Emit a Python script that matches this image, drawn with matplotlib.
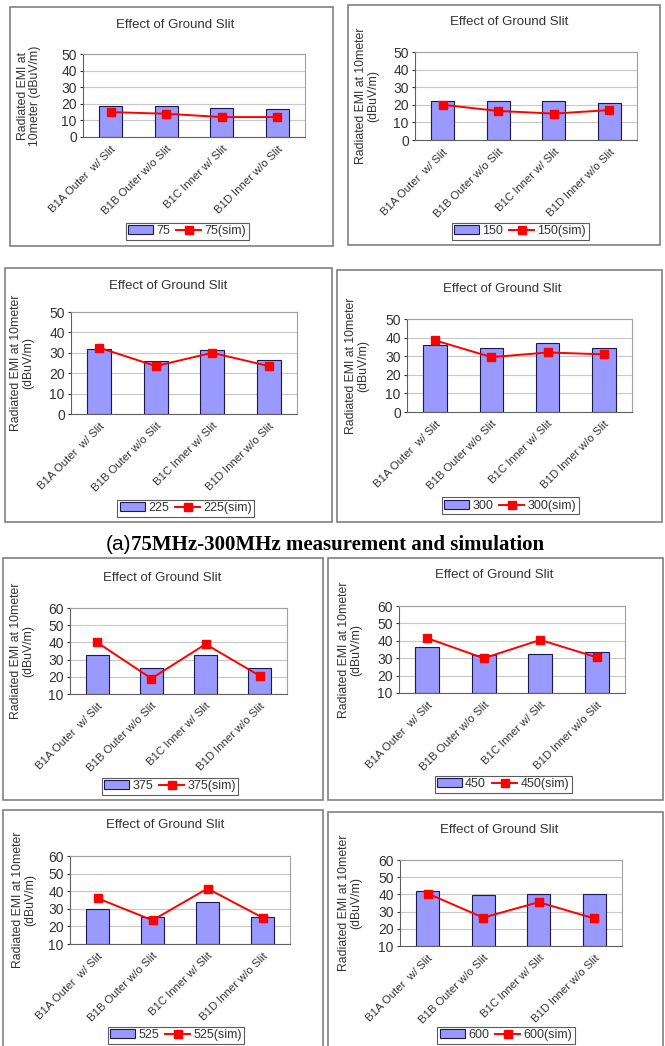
#!/usr/bin/env python3
"""Effect of ground slit: measured (bars) vs simulated (line), 8 frequency panels."""
import matplotlib
matplotlib.use("Agg")
import matplotlib.pyplot as plt
from matplotlib.patches import Rectangle
from matplotlib.lines import Line2D

W, H = 665, 1046

CATEGORIES = ["B1A Outer  w/ Slit", "B1B Outer w/o Slit",
              "B1C Inner w/ Slit", "B1D Inner w/o Slit"]
FREQS = ["75", "150", "225", "300", "375", "450", "525", "600"]

MEAS_75 = [18.5, 18.5, 17.5, 17.0]
SIM_75 = [15.0, 14.0, 12.0, 12.0]
MEAS_150 = [22.0, 22.0, 22.0, 21.0]
SIM_150 = [20.0, 16.5, 15.0, 17.0]
MEAS_225 = [32.0, 26.0, 31.5, 26.5]
SIM_225 = [32.5, 23.5, 30.0, 23.5]
MEAS_300 = [36.0, 34.5, 37.0, 34.5]
SIM_300 = [38.5, 29.5, 32.0, 31.0]
MEAS_375 = [32.5, 25.0, 32.5, 25.0]
SIM_375 = [40.0, 19.0, 39.0, 20.5]
MEAS_450 = [36.5, 32.0, 32.5, 33.5]
SIM_450 = [41.5, 30.0, 40.5, 30.5]
MEAS_525 = [30.0, 25.5, 34.0, 25.5]
SIM_525 = [36.0, 23.5, 41.5, 25.0]
MEAS_600 = [42.0, 39.5, 40.5, 40.5]
SIM_600 = [40.5, 26.5, 35.5, 26.0]

MEAS = [MEAS_75, MEAS_150, MEAS_225, MEAS_300, MEAS_375, MEAS_450, MEAS_525, MEAS_600]
SIM = [SIM_75, SIM_150, SIM_225, SIM_300, SIM_375, SIM_450, SIM_525, SIM_600]
YLIMS = [(0, 50)] * 4 + [(10, 60)] * 4

YLABEL_A = "Radiated EMI at\n10meter (dBuV/m)"
YLABEL_B = "Radiated EMI at 10meter\n(dBuV/m)"
CAPTION_A = "(a)"
CAPTION_B = "75MHz-300MHz measurement and simulation"

# layout in reference pixels: frame box, plot box, title xy, legend centre xy
LAYOUT = [
    dict(frame=(10, 7, 333, 246), plot=(83, 54, 305, 137), title=(175, 25), leg=(187, 231)),
    dict(frame=(348, 5, 660, 245), plot=(415, 52, 637, 140), title=(509, 22), leg=(520, 231)),
    dict(frame=(5, 268, 332, 522), plot=(71, 312, 297, 414), title=(168, 286), leg=(186, 508)),
    dict(frame=(337, 270, 662, 522), plot=(407, 319, 632, 412), title=(502, 289), leg=(510, 506)),
    dict(frame=(3, 558, 323, 800), plot=(70, 608, 287, 694), title=(162, 578), leg=(170, 786)),
    dict(frame=(328, 558, 663, 800), plot=(399, 606, 625, 693), title=(494, 575), leg=(503, 784)),
    dict(frame=(3, 810, 323, 1050), plot=(70, 856, 290, 944), title=(165, 825), leg=(176, 1035)),
    dict(frame=(328, 812, 663, 1050), plot=(400, 860, 622, 946), title=(499, 830), leg=(506, 1035)),
]
YLABEL_OFFSET = [54, 48, 49, 50, 48, 49, 46, 50]

BAR_COLOR = "#9999ff"
BAR_EDGE = "#1a1a50"
LINE_COLOR = "#ff0000"
TEXT = "#333333"

plt.rcParams["font.family"] = ["Liberation Sans", "DejaVu Sans"]

fig = plt.figure(figsize=(W / 100, H / 100), dpi=100)


def fx(x):
    return x / W


def fy(y):
    return 1 - y / H


for i, lay in enumerate(LAYOUT):
    x0, y0, x1, y1 = lay["frame"]
    fig.patches.append(Rectangle((fx(x0), fy(y1)), fx(x1 - x0), (y1 - y0) / H,
                                 transform=fig.transFigure, fill=False,
                                 edgecolor="#808080", linewidth=1.2))
    px0, py0, px1, py1 = lay["plot"]
    ax = fig.add_axes([fx(px0), fy(py1), fx(px1 - px0), (py1 - py0) / H])
    xs = range(len(CATEGORIES))
    lo, hi = YLIMS[i]
    ax.bar(xs, [v - lo for v in MEAS[i]], bottom=lo, width=0.42, color=BAR_COLOR,
           edgecolor=BAR_EDGE, linewidth=0.8, zorder=2)
    ax.plot(xs, SIM[i], color=LINE_COLOR, marker="s", markersize=6,
            linewidth=1.4, zorder=3)
    ax.set_xlim(-0.5, len(CATEGORIES) - 0.5)
    ax.set_ylim(lo, hi)
    ax.set_yticks(range(lo, hi + 1, 10))
    ax.yaxis.grid(True, color="#c8c8c8", linewidth=0.8, zorder=0)
    ax.set_axisbelow(True)
    ax.set_xticks(list(xs))
    ax.set_xticklabels(CATEGORIES, rotation=45, ha="right", rotation_mode="anchor",
                       fontsize=8.2, color=TEXT)
    ax.tick_params(axis="x", length=0, pad=5)
    ax.tick_params(axis="y", labelsize=10, length=2.5, pad=2, colors=TEXT)
    for side in ("top", "right"):
        ax.spines[side].set_color("#a0a0a0")
    for side in ("left", "bottom"):
        ax.spines[side].set_color("#606060")
    ax.set_ylabel(YLABEL_A if i == 0 else YLABEL_B, fontsize=8.8, color=TEXT,
                  linespacing=1.1, va="center")
    ax.yaxis.set_label_coords(-YLABEL_OFFSET[i] / (px1 - px0), 0.5)

    tx, ty = lay["title"]
    fig.text(fx(tx), fy(ty), "Effect of Ground Slit", ha="center", va="center",
             fontsize=9.5, color=TEXT)

    handles = [Rectangle((0, 0), 1, 1, facecolor=BAR_COLOR, edgecolor=BAR_EDGE, linewidth=0.8),
               Line2D([], [], color=LINE_COLOR, marker="s", markersize=6, linewidth=1.4)]
    lx, ly = lay["leg"]
    fig.legend(handles, [FREQS[i], FREQS[i] + "(sim)"], loc="center",
               bbox_to_anchor=(fx(lx), fy(ly)), ncol=2, fontsize=9,
               frameon=True, fancybox=False, edgecolor=TEXT,
               handlelength=2.0, handletextpad=0.25, columnspacing=0.5,
               borderpad=0.2, borderaxespad=0, labelcolor=TEXT).get_frame().set_linewidth(0.8)

fig.text(fx(131), fy(545), CAPTION_A, ha="right", va="center", fontsize=15)
fig.text(fx(131), fy(545), CAPTION_B, ha="left", va="center", fontsize=15,
         fontweight="bold", family=["Liberation Serif", "DejaVu Serif"])

fig.savefig("out.png", dpi=100)
